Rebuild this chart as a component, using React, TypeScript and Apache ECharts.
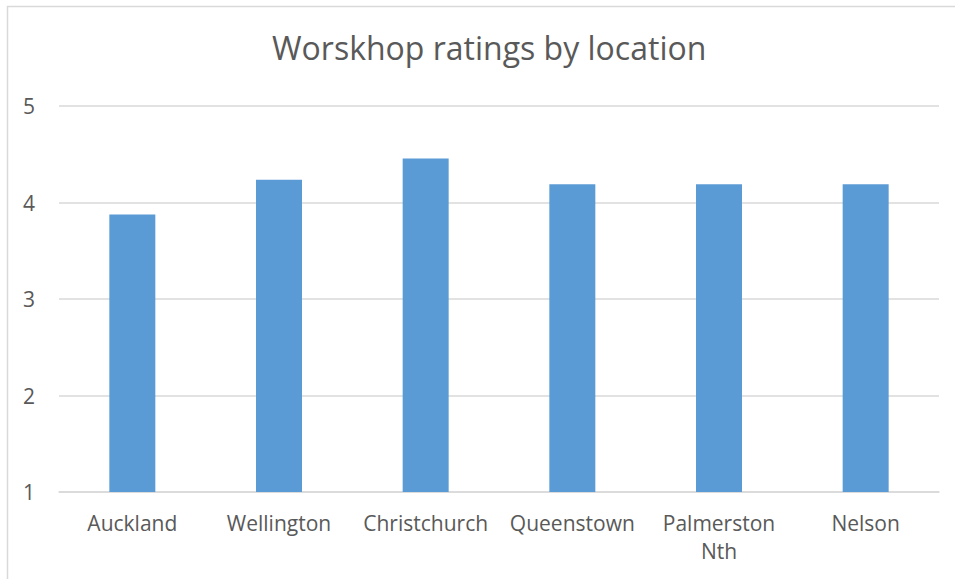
import React, { useEffect, useRef } from "react";
import * as echarts from "echarts";

const categories = ["Auckland", "Wellington", "Christchurch", "Queenstown", "Palmerston\nNth", "Nelson"];
const ratings = [3.875, 4.235, 4.457, 4.19, 4.19, 4.19];
const yTicks = { min: 1, max: 5, interval: 1 };
const titleText = "Worskhop ratings by location";

const FONT = "'Open Sans', 'Noto Sans', sans-serif";

export default function App() {
  const ref = useRef<HTMLDivElement>(null);
  useEffect(() => {
    if (!ref.current) return;
    const chart = echarts.init(ref.current, undefined, { renderer: "svg" });
    chart.setOption({
      animation: false,
      backgroundColor: "#ffffff",
      title: {
        text: titleText,
        left: 267,
        top: 26,
        textStyle: { color: "#595959", fontSize: 32, fontWeight: "normal", fontFamily: FONT },
      },
      graphic: [
        {
          type: "rect",
          shape: { x: 7.5, y: 6.5, width: 1000, height: 1000 },
          style: { fill: "none", stroke: "#d9d9d9", lineWidth: 1.5 },
          silent: true,
        },
      ],
      grid: { left: 59, right: 16, top: 106, bottom: 87, containLabel: false },
      xAxis: {
        type: "category",
        data: categories,
        axisLine: { lineStyle: { color: "#d9d9d9", width: 1.5 } },
        axisTick: { show: false },
        axisLabel: {
          color: "#595959",
          fontSize: 21,
          fontFamily: FONT,
          margin: 17,
          lineHeight: 28,
          interval: 0,
        },
      },
      yAxis: {
        type: "value",
        min: yTicks.min,
        max: yTicks.max,
        interval: yTicks.interval,
        axisLine: { show: false },
        axisTick: { show: false },
        splitLine: { lineStyle: { color: "#d9d9d9", width: 1.5 } },
        axisLabel: { color: "#595959", fontSize: 21, fontFamily: FONT, margin: 24 },
      },
      series: [
        {
          type: "bar",
          data: ratings,
          barWidth: 46,
          itemStyle: { color: "#5b9bd5" },
        },
      ],
    });
    return () => chart.dispose();
  }, []);
  return (
    <div
      ref={ref}
      style={{ position: "fixed", left: 0, top: 0, width: 955, height: 579 }}
    />
  );
}
